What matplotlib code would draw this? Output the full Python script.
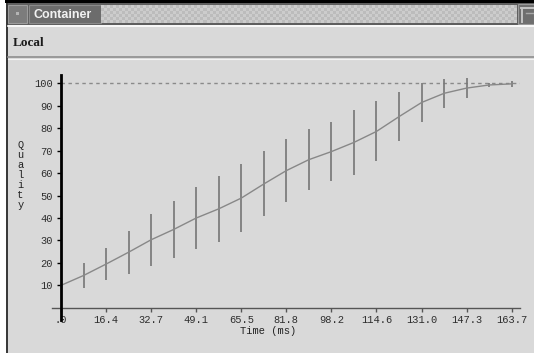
import numpy as np
import matplotlib.pyplot as plt
from matplotlib.patches import Rectangle

# quality measured over time (ms): mean value and spread of the runs
time_ms = [0.0, 8.2, 16.4, 24.6, 32.7, 40.9, 49.1, 57.3, 65.5, 73.7, 81.8,
           90.0, 98.2, 106.4, 114.6, 122.8, 131.0, 139.2, 147.3, 155.5, 163.7]
quality = [10.0, 14.4, 19.5, 24.8, 30.3, 34.9, 40.0, 44.1, 48.9, 55.2, 61.1,
           66.0, 69.6, 73.7, 78.6, 85.2, 91.5, 95.6, 97.9, 99.3, 99.8]
spread = [0.0, 5.5, 7.0, 9.6, 11.7, 12.7, 14.0, 14.8, 15.2, 14.5, 13.9,
          13.7, 13.2, 14.4, 13.4, 10.8, 8.8, 6.5, 4.5, 0.8, 1.4]
target = 100

xtick_values = [0.0, 16.37, 32.74, 49.11, 65.48, 81.85, 98.22, 114.59, 130.96, 147.33, 163.7]
xtick_labels = ['.0', '16.4', '32.7', '49.1', '65.5', '81.8', '98.2', '114.6', '131.0', '147.3', '163.7']
ytick_values = [10, 20, 30, 40, 50, 60, 70, 80, 90, 100]

W, H = 534, 353
MONO = 'Liberation Mono'
PANEL = '#d9d9d9'

fig = plt.figure(figsize=(W / 100, H / 100), dpi=100)
fig.patch.set_facecolor('white')

# window frame, drawn in pixel units
bg = fig.add_axes([0, 0, 1, 1])
bg.set_xlim(0, W)
bg.set_ylim(H, 0)
bg.axis('off')

bg.add_patch(Rectangle((5, 0), W - 5, 3, fc='black', lw=0))
bg.add_patch(Rectangle((6, 3), W - 6, 22, fc='#5e5e5e', lw=0))
# menu button
bg.add_patch(Rectangle((8, 5), 19, 18, fc='#7c7c7c', ec='#9c9c9c', lw=0.8))
bg.add_patch(Rectangle((16, 12), 3, 3, fc='#b4b4b4', lw=0))
# title tab
bg.add_patch(Rectangle((29, 5), 72, 18, fc='#6c6c6c', ec='#8a8a8a', lw=0.8))
bg.text(33, 14.5, 'Container', color='#f2f2f2', fontsize=9, fontweight='bold',
        family='Liberation Sans', va='center', ha='left')
# checkered drag area
cy, cx = np.indices((6, 138))
checks = ((cx + cy) % 2).astype(float)
shade = 0.80 - 0.06 * checks
bg.imshow(np.dstack([shade] * 3), extent=(101, 517, 23, 5),
          aspect='auto', interpolation='nearest', zorder=1)
# maximise button
bg.add_patch(Rectangle((518, 4), 16, 20, fc='#6e6e6e', ec='#9a9a9a', lw=0.8, zorder=2))
bg.plot([521, 534], [8, 8], color='#c4c4c4', lw=1.4, zorder=3)
bg.plot([521.5, 521.5], [8, 22], color='#c4c4c4', lw=1.4, zorder=3)
bg.plot([526, 534], [13, 13], color='#a8a8a8', lw=1.0, zorder=3)

# body panels
bg.add_patch(Rectangle((8, 25), W - 8, H - 25, fc=PANEL, lw=0))
bg.plot([8, W], [26, 26], color='white', lw=1.2)
bg.plot([8, W], [57, 57], color='#8e8e8e', lw=1.2)
bg.plot([8, W], [58.5, 58.5], color='#f4f4f4', lw=0.8)
bg.add_patch(Rectangle((6, 3), 2, H - 3, fc='#3a3a3a', lw=0))
bg.text(13, 42.5, 'Local', fontsize=9.5, fontweight='bold', family='Liberation Serif',
        color='#1a1a1a', va='center', ha='left')

# chart area: pixel geometry of the plot
px_ms = 2.753
px_q = 2.244
x0_px, y0_px = 61, 307.8
left_px, right_px, top_px, bottom_px = 52, 520, 74.6, 320.3

ax = fig.add_axes([left_px / W, (H - bottom_px) / H,
                   (right_px - left_px) / W, (bottom_px - top_px) / H])
ax.set_facecolor('none')
ax.set_xlim((left_px - x0_px) / px_ms, (right_px - x0_px) / px_ms)
ax.set_ylim((y0_px - bottom_px) / px_q, (y0_px - top_px) / px_q)

q = np.array(quality)
s = np.array(spread)
ax.hlines(target, 0, ax.get_xlim()[1], colors='#8a8a8a', lw=1,
          linestyles=(0, (2.5, 2.5)), zorder=1)
ax.vlines(time_ms, q - s, q + s, colors='#767676', lw=1.2, zorder=2)
ax.plot(time_ms, quality, color='#888888', lw=1, zorder=3)

for side in ('top', 'right'):
    ax.spines[side].set_visible(False)
ax.spines['left'].set_position(('data', 0))
ax.spines['left'].set_color('black')
ax.spines['left'].set_linewidth(2)
ax.spines['bottom'].set_position(('data', 0))
ax.spines['bottom'].set_color('#555555')
ax.spines['bottom'].set_linewidth(1)
ax.spines['left'].set_zorder(4)

ax.set_xticks(xtick_values)
ax.set_xticklabels(xtick_labels)
ax.set_yticks(ytick_values)
ax.tick_params(axis='x', direction='out', length=3, width=1, color='#555555',
               labelsize=7.5, labelcolor='#2e2e2e', pad=2)
ax.tick_params(axis='y', direction='out', length=3, width=1, color='black',
               labelsize=7.5, labelcolor='#2e2e2e', pad=3)
for lab in ax.get_xticklabels() + ax.get_yticklabels():
    lab.set_family(MONO)

ax.set_xlabel('Time (ms)', family=MONO, fontsize=7.5, color='#222222')
ax.xaxis.set_label_coords((268.5 - left_px) / (right_px - left_px),
                          (bottom_px - 326.5) / (bottom_px - top_px))
ax.xaxis.label.set_va('top')
ax.set_ylabel('\n'.join('Quality'), family=MONO, fontsize=7.5, color='#222222',
              rotation=0, linespacing=1.0, ha='center', va='center')
ax.yaxis.set_label_coords((20.5 - left_px) / (right_px - left_px),
                          (bottom_px - 175) / (bottom_px - top_px))

fig.savefig('out.png', dpi=100)
